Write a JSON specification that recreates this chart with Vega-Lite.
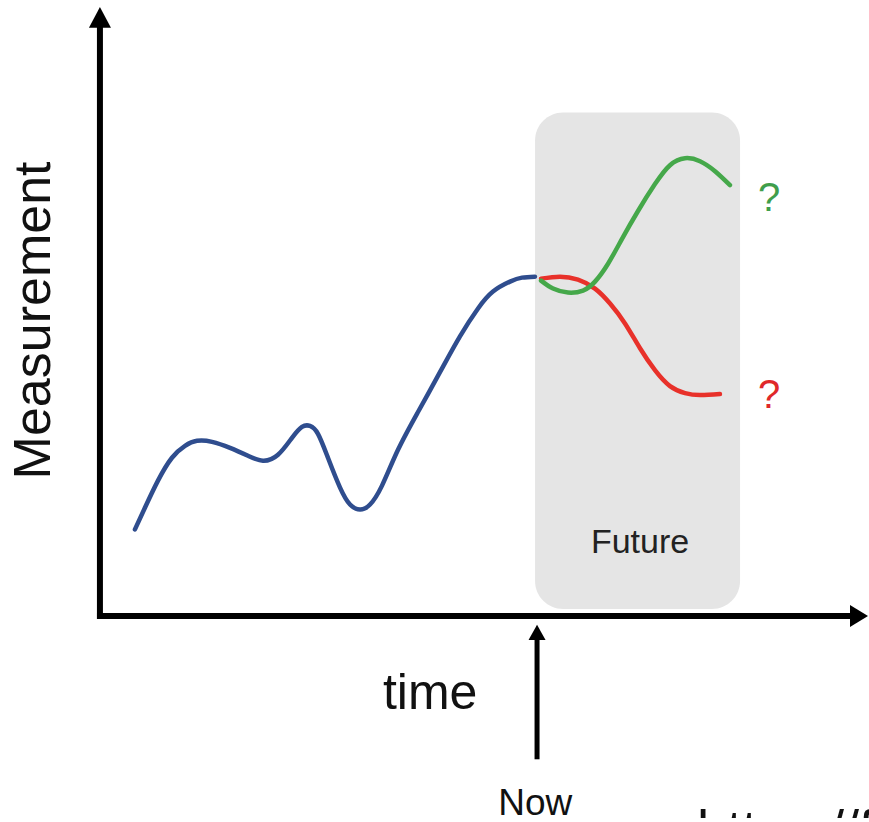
{
  "$schema": "https://vega.github.io/schema/vega-lite/v6.json",
  "autosize": {"type": "fit", "contains": "padding"},
  "width": 869,
  "height": 822,
  "padding": 0,
  "background": "white",
  "config": {"view": {"stroke": null}},
  "datasets": {
    "curves": [
      {"series": "past", "t": 4.23, "m": 8.8},
      {"series": "past", "t": 5.39, "m": 11.0},
      {"series": "past", "t": 6.88, "m": 13.7},
      {"series": "past", "t": 8.49, "m": 16.0},
      {"series": "past", "t": 9.99, "m": 17.2},
      {"series": "past", "t": 11.37, "m": 17.7},
      {"series": "past", "t": 13.10, "m": 17.6},
      {"series": "past", "t": 15.17, "m": 17.0},
      {"series": "past", "t": 17.24, "m": 16.2},
      {"series": "past", "t": 18.96, "m": 15.7},
      {"series": "past", "t": 20.69, "m": 16.3},
      {"series": "past", "t": 22.30, "m": 18.0},
      {"series": "past", "t": 23.45, "m": 19.1},
      {"series": "past", "t": 24.37, "m": 19.2},
      {"series": "past", "t": 25.29, "m": 18.4},
      {"series": "past", "t": 26.44, "m": 16.0},
      {"series": "past", "t": 27.83, "m": 13.0},
      {"series": "past", "t": 28.98, "m": 11.3},
      {"series": "past", "t": 30.13, "m": 10.8},
      {"series": "past", "t": 31.28, "m": 11.3},
      {"series": "past", "t": 32.66, "m": 13.2},
      {"series": "past", "t": 34.50, "m": 16.8},
      {"series": "past", "t": 36.80, "m": 20.6},
      {"series": "past", "t": 39.33, "m": 24.6},
      {"series": "past", "t": 41.63, "m": 28.2},
      {"series": "past", "t": 43.71, "m": 31.0},
      {"series": "past", "t": 45.43, "m": 32.7},
      {"series": "past", "t": 47.39, "m": 33.7},
      {"series": "past", "t": 48.77, "m": 34.1},
      {"series": "past", "t": 50.26, "m": 34.2},
      {"series": "down", "t": 50.96, "m": 34.0},
      {"series": "down", "t": 53.14, "m": 34.2},
      {"series": "down", "t": 55.21, "m": 33.9},
      {"series": "down", "t": 57.17, "m": 33.0},
      {"series": "down", "t": 58.90, "m": 31.5},
      {"series": "down", "t": 60.62, "m": 29.5},
      {"series": "down", "t": 62.35, "m": 27.0},
      {"series": "down", "t": 64.07, "m": 24.8},
      {"series": "down", "t": 65.80, "m": 23.2},
      {"series": "down", "t": 67.53, "m": 22.5},
      {"series": "down", "t": 69.25, "m": 22.3},
      {"series": "down", "t": 71.55, "m": 22.4},
      {"series": "up", "t": 50.96, "m": 33.8},
      {"series": "up", "t": 52.34, "m": 33.0},
      {"series": "up", "t": 54.06, "m": 32.6},
      {"series": "up", "t": 55.79, "m": 32.8},
      {"series": "up", "t": 57.17, "m": 33.7},
      {"series": "up", "t": 58.67, "m": 35.5},
      {"series": "up", "t": 60.28, "m": 38.0},
      {"series": "up", "t": 62.12, "m": 40.8},
      {"series": "up", "t": 64.07, "m": 43.5},
      {"series": "up", "t": 65.80, "m": 45.4},
      {"series": "up", "t": 67.53, "m": 46.1},
      {"series": "up", "t": 69.25, "m": 45.8},
      {"series": "up", "t": 70.98, "m": 44.8},
      {"series": "up", "t": 72.70, "m": 43.4}
    ],
    "region": [{"t": 50.27, "t2": 73.86, "m": 50.7, "m2": 0.8}],
    "axesLines": [
      {"name": "yaxis", "t": 0.2, "t2": 0.2, "m": -0.2, "m2": 59.4},
      {"name": "xaxis", "t": -0.14, "t2": 86.74, "m": 0.1, "m2": 0.1}
    ],
    "nowLine": [{"t": 50.5, "t2": 50.5, "m": -14.3, "m2": -2.0}],
    "labels": [
      {"label": "Measurement", "t": -5.55, "m": 29.8},
      {"label": "time", "t": 38.2, "m": -9.2},
      {"label": "Now", "t": 50.3, "m": -19.9},
      {"label": "Future", "t": 62.35, "m": 6.4},
      {"label": "green?", "t": 77.2, "m": 40.8},
      {"label": "red?", "t": 77.2, "m": 21.0},
      {"label": "url", "t": 68.9, "m": -23.2}
    ]
  },
  "layer": [
    {
      "data": {"name": "region"},
      "mark": {"type": "rect", "color": "#e5e5e5", "cornerRadius": 28},
      "encoding": {
        "x": {"field": "t", "type": "quantitative", "scale": {"domain": [-11.3, 88.7], "nice": false, "zero": false}, "axis": null},
        "x2": {"field": "t2"},
        "y": {"field": "m", "type": "quantitative", "scale": {"domain": [-20.2, 62], "nice": false, "zero": false}, "axis": null},
        "y2": {"field": "m2"}
      }
    },
    {
      "data": {"name": "axesLines"},
      "mark": {"type": "rule", "color": "black", "strokeWidth": 6},
      "encoding": {
        "x": {"field": "t", "type": "quantitative"},
        "x2": {"field": "t2"},
        "y": {"field": "m", "type": "quantitative"},
        "y2": {"field": "m2"}
      }
    },
    {
      "data": {"name": "nowLine"},
      "mark": {"type": "rule", "color": "black", "strokeWidth": 5},
      "encoding": {
        "x": {"field": "t", "type": "quantitative"},
        "x2": {"field": "t2"},
        "y": {"field": "m", "type": "quantitative"},
        "y2": {"field": "m2"}
      }
    },
    {
      "data": {"values": [{"t": 0.2, "m": 60.25}]},
      "mark": {"type": "point", "shape": "M0,-0.95L-1,0.95L1,0.95Z", "filled": true, "color": "black", "size": 484, "opacity": 1, "strokeWidth": 0},
      "encoding": {"x": {"field": "t", "type": "quantitative"}, "y": {"field": "m", "type": "quantitative"}}
    },
    {
      "data": {"values": [{"t": 87.55, "m": 0.1}]},
      "mark": {"type": "point", "shape": "M0.82,0L-0.82,-1L-0.82,1Z", "filled": true, "color": "black", "size": 484, "opacity": 1, "strokeWidth": 0},
      "encoding": {"x": {"field": "t", "type": "quantitative"}, "y": {"field": "m", "type": "quantitative"}}
    },
    {
      "data": {"values": [{"t": 50.5, "m": -1.55}]},
      "mark": {"type": "point", "shape": "M0,-0.9L-1,0.9L1,0.9Z", "filled": true, "color": "black", "size": 289, "opacity": 1, "strokeWidth": 0},
      "encoding": {"x": {"field": "t", "type": "quantitative"}, "y": {"field": "m", "type": "quantitative"}}
    },
    {
      "data": {"name": "curves"},
      "mark": {"type": "line", "interpolate": "natural", "strokeWidth": 4.5, "strokeCap": "round"},
      "encoding": {
        "x": {"field": "t", "type": "quantitative"},
        "y": {"field": "m", "type": "quantitative"},
        "detail": {"field": "series"},
        "color": {"field": "series", "type": "nominal", "scale": {"domain": ["past", "up", "down"], "range": ["#2f4d8e", "#45a84a", "#e8312a"]}, "legend": null}
      }
    },
    {
      "data": {"name": "labels"},
      "transform": [{"filter": "datum.label === 'Measurement'"}],
      "mark": {"type": "text", "angle": 270, "align": "center", "baseline": "alphabetic", "font": "Liberation Sans", "fontSize": 52, "color": "#111"},
      "encoding": {"x": {"field": "t", "type": "quantitative"}, "y": {"field": "m", "type": "quantitative"}, "text": {"field": "label"}}
    },
    {
      "data": {"name": "labels"},
      "transform": [{"filter": "datum.label === 'time'"}],
      "mark": {"type": "text", "align": "center", "baseline": "alphabetic", "font": "Liberation Sans", "fontSize": 50, "color": "#111"},
      "encoding": {"x": {"field": "t", "type": "quantitative"}, "y": {"field": "m", "type": "quantitative"}, "text": {"field": "label"}}
    },
    {
      "data": {"name": "labels"},
      "transform": [{"filter": "datum.label === 'Now'"}],
      "mark": {"type": "text", "align": "center", "baseline": "alphabetic", "font": "Liberation Sans", "fontSize": 37, "color": "#111"},
      "encoding": {"x": {"field": "t", "type": "quantitative"}, "y": {"field": "m", "type": "quantitative"}, "text": {"field": "label"}}
    },
    {
      "data": {"name": "labels"},
      "transform": [{"filter": "datum.label === 'Future'"}],
      "mark": {"type": "text", "align": "center", "baseline": "alphabetic", "font": "Liberation Sans", "fontSize": 34, "color": "#222"},
      "encoding": {"x": {"field": "t", "type": "quantitative"}, "y": {"field": "m", "type": "quantitative"}, "text": {"field": "label"}}
    },
    {
      "data": {"name": "labels"},
      "transform": [{"filter": "datum.label === 'green?'"}],
      "mark": {"type": "text", "align": "center", "baseline": "alphabetic", "font": "Liberation Sans", "fontSize": 40, "color": "#3f9e4c"},
      "encoding": {"x": {"field": "t", "type": "quantitative"}, "y": {"field": "m", "type": "quantitative"}, "text": {"value": "?"}}
    },
    {
      "data": {"name": "labels"},
      "transform": [{"filter": "datum.label === 'red?'"}],
      "mark": {"type": "text", "align": "center", "baseline": "alphabetic", "font": "Liberation Sans", "fontSize": 40, "color": "#e0282a"},
      "encoding": {"x": {"field": "t", "type": "quantitative"}, "y": {"field": "m", "type": "quantitative"}, "text": {"value": "?"}}
    },
    {
      "data": {"name": "labels"},
      "transform": [{"filter": "datum.label === 'url'"}],
      "mark": {"type": "text", "align": "left", "baseline": "alphabetic", "font": "Liberation Sans", "fontSize": 54, "color": "#111", "clip": true},
      "encoding": {"x": {"field": "t", "type": "quantitative"}, "y": {"field": "m", "type": "quantitative"}, "text": {"value": "https://f"}}
    }
  ]
}
